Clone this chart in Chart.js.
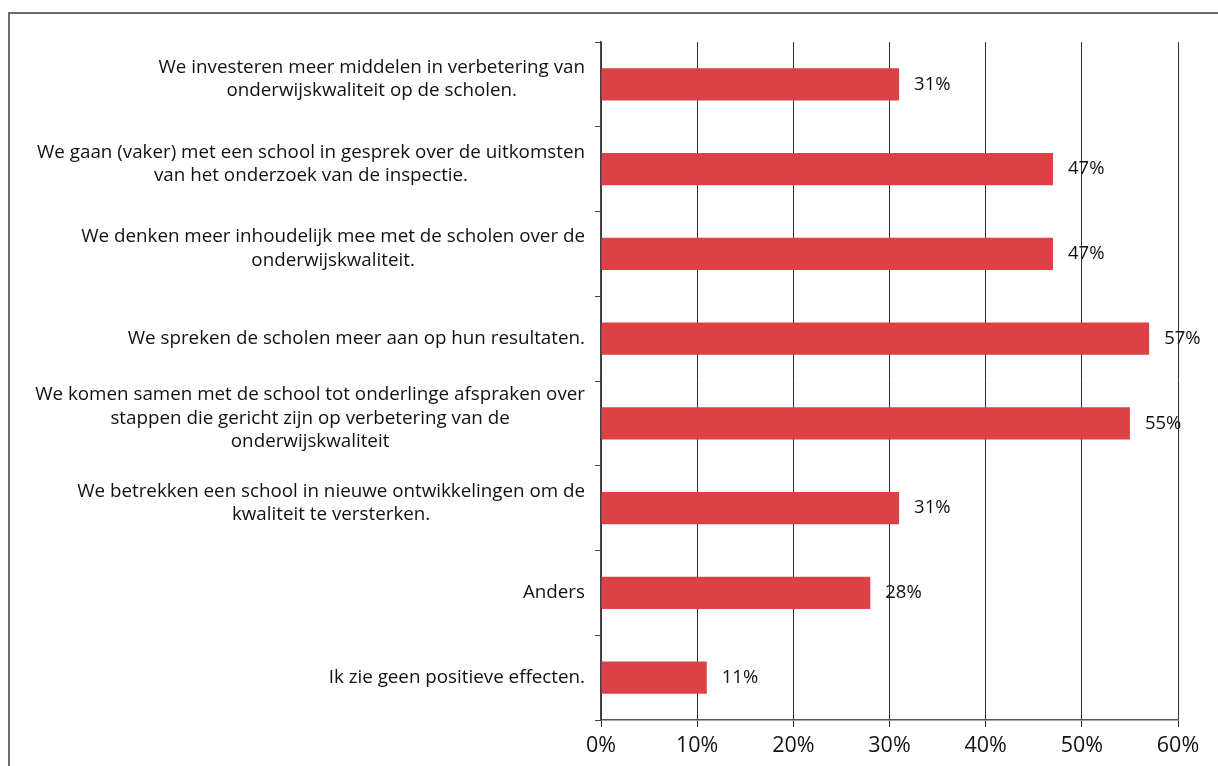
<!DOCTYPE html>
<html lang="nl">
<head>
<meta charset="UTF-8">
<title>Positieve effecten</title>
<script src="https://cdn.jsdelivr.net/npm/chart.js@4.4.1/dist/chart.umd.min.js"></script>
<style>
    body {
        margin: 0;
        background: #fff;
        font-family: "Open Sans", sans-serif;
    }

    /* scan frame: only top and left edges are visible */
    .frame {
        position: absolute;
        left: 8px;
        top: 12px;
        width: 1210px;
        height: 754px;
        border-left: 2px solid #6b6b6b;
        border-top: 2px solid #6b6b6b;
    }

    .chart-box {
        position: absolute;
        left: 0;
        top: 0;
        width: 1218px;
        height: 766px;
    }
</style>
</head>
<body>
<div class="frame"></div>
<div class="chart-box"><canvas id="effectChart"></canvas></div>

<script>
    // categorieën (regels zoals in het origineel afgebroken)
    const categories = [
        ['We investeren meer middelen in verbetering van', 'onderwijskwaliteit op de scholen.'],
        ['We gaan (vaker) met een school in gesprek over de uitkomsten', 'van het onderzoek van de inspectie.'],
        ['We denken meer inhoudelijk mee met de scholen over de', 'onderwijskwaliteit.'],
        ['We spreken de scholen meer aan op hun resultaten.'],
        ['We komen samen met de school tot onderlinge afspraken over', 'stappen die gericht zijn op verbetering van de', 'onderwijskwaliteit'],
        ['We betrekken een school in nieuwe ontwikkelingen om de', 'kwaliteit te versterken.'],
        ['Anders'],
        ['Ik zie geen positieve effecten.']
    ];
    const percentages = [31, 47, 47, 57, 55, 31, 28, 11];
    const xTickValues = [0, 10, 20, 30, 40, 50, 60];

    const barRed = '#dc4146';
    const textColor = '#111';
    const fontName = '"Open Sans"';

    // categorie-teksten: blok rechts uitgelijnd, regels gecentreerd
    const categoryLabels = {
        id: 'categoryLabels',
        afterDraw(chart) {
            const ctx = chart.ctx;
            const yScale = chart.scales.y;
            ctx.save();
            ctx.font = '18.8px ' + fontName;
            ctx.fillStyle = textColor;
            ctx.textAlign = 'center';
            ctx.textBaseline = 'middle';
            const lineHeight = 23.5;
            categories.forEach((lines, i) => {
                const y = yScale.getPixelForValue(i);
                const right = yScale.right - 16;
                const maxW = Math.max(...lines.map(l => ctx.measureText(l).width));
                const cx = right - maxW / 2;
                // meerregelige labels staan iets hoger dan het midden van de balk
                const shift = lines.length > 1 ? 5 : 0;
                const top = y - (lines.length - 1) * lineHeight / 2 - shift;
                lines.forEach((line, j) => ctx.fillText(line, cx, top + j * lineHeight));
            });
            ctx.restore();
        }
    };

    // waardelabels naast de balken
    const valueLabels = {
        id: 'valueLabels',
        afterDatasetsDraw(chart) {
            const ctx = chart.ctx;
            const meta = chart.getDatasetMeta(0);
            ctx.save();
            ctx.font = '18.5px ' + fontName;
            ctx.fillStyle = textColor;
            ctx.textAlign = 'left';
            ctx.textBaseline = 'middle';
            meta.data.forEach((bar, i) => {
                ctx.fillText(percentages[i] + '%', bar.x + 15, bar.y);
            });
            ctx.restore();
        }
    };

    const effectChart = new Chart(document.getElementById('effectChart'), {
        type: 'bar',
        data: {
            labels: categories.map(l => l.join(' ')),
            datasets: [{
                data: percentages,
                backgroundColor: barRed,
                borderWidth: 0,
                barPercentage: 0.38,
                categoryPercentage: 1
            }]
        },
        options: {
            indexAxis: 'y',
            responsive: true,
            maintainAspectRatio: false,
            animation: false,
            layout: {
                padding: { top: 42, right: 40, left: 0, bottom: 0 }
            },
            plugins: {
                legend: { display: false },
                tooltip: { enabled: false }
            },
            scales: {
                x: {
                    type: 'linear',
                    position: 'bottom',
                    min: 0,
                    max: 60,
                    afterBuildTicks: axis => {
                        axis.ticks = xTickValues.map(v => ({ value: v }));
                    },
                    afterFit: scale => { scale.height = 46; },
                    ticks: {
                        callback: v => v + '%',
                        font: { family: 'Open Sans', size: 21.5 },
                        color: textColor,
                        padding: 6,
                        maxRotation: 0
                    },
                    grid: {
                        color: '#2f2f2f',
                        lineWidth: 1,
                        tickLength: 7
                    },
                    border: { color: '#555', width: 1.5 }
                },
                y: {
                    type: 'category',
                    offset: true,
                    afterFit: scale => { scale.width = 601; },
                    ticks: { display: false },
                    grid: {
                        offset: true,
                        drawOnChartArea: false,
                        tickLength: 6,
                        color: '#444'
                    },
                    border: { color: '#444', width: 1.5 }
                }
            }
        },
        plugins: [categoryLabels, valueLabels]
    });
</script>
</body>
</html>
